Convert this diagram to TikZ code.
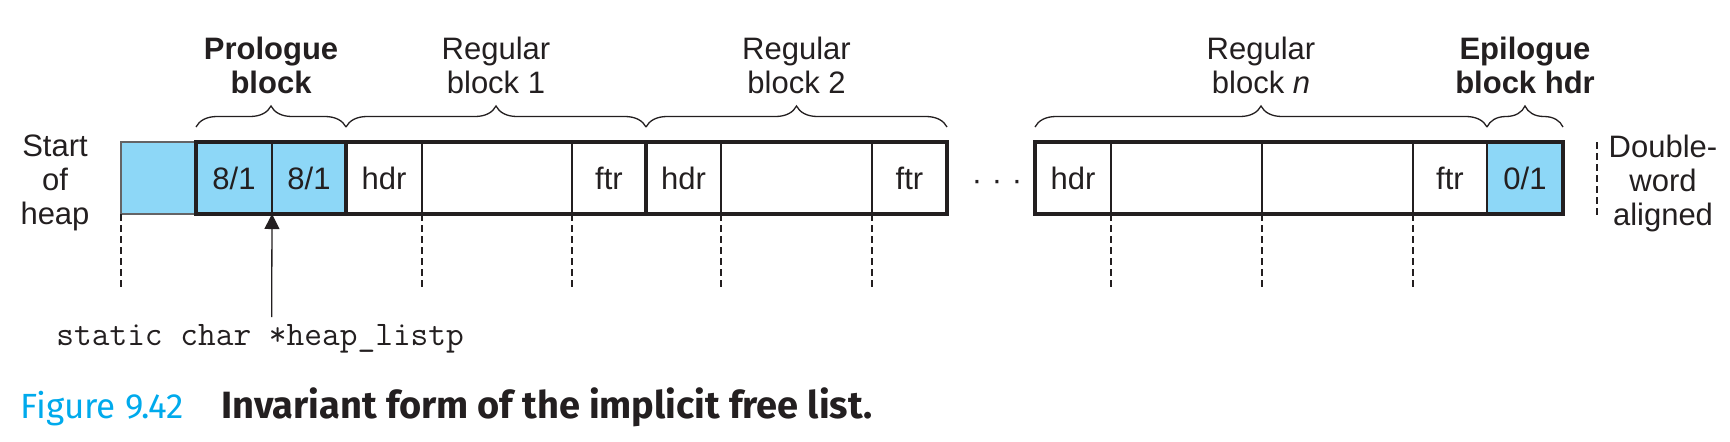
\documentclass[tikz,border=0pt]{standalone}
\usepackage{fontspec}
\setmainfont{Liberation Sans}
\newfontfamily\capfont{Fira Sans}
\usetikzlibrary{decorations.pathreplacing,calc,arrows.meta}
\definecolor{heapblue}{RGB}{141,215,247}
\definecolor{capblue}{RGB}{0,170,236}
\definecolor{ink}{RGB}{35,31,32}
\definecolor{edgegray}{RGB}{100,100,102}
\begin{document}
\begin{tikzpicture}[x=0.5pt,y=-0.5pt,
  lbl/.style={font=\fontsize{15.5}{17}\selectfont, text=ink},
  cell/.style={draw=ink, line width=0.65pt, minimum height=36pt, inner sep=0pt, outer sep=0pt, lbl},
  bluecell/.style={cell, fill=heapblue},
  outline/.style={draw=ink, line width=1.65pt},
  bracedec/.style={decorate, decoration={brace, amplitude=10.5pt}, line width=0.65pt, draw=ink},
  guide/.style={draw=ink, line width=0.65pt, dash pattern=on 3.5pt off 2pt},
  toplabel/.style={font=\fontsize{15.5}{17}\selectfont, text=ink, align=center, anchor=south, inner sep=0pt},
  toplabelb/.style={font=\fontsize{15.5}{17}\selectfont\bfseries, text=ink, align=center, anchor=south, inner sep=0pt},
  sidelabel/.style={font=\fontsize{15.5}{17}\selectfont, text=ink, align=center, inner sep=0pt},
]
\useasboundingbox (0,0) rectangle (1730,441);

% cells
\node[bluecell, draw=edgegray, minimum width=37.5pt] (start) at (158.5,178) {};
\node[bluecell, minimum width=38pt] (p1) at (234,178) {8/1};
\node[bluecell, minimum width=37pt] (p2) at (309,178) {8/1};
\node[cell, minimum width=38pt] (b1h) at (384,178) {hdr};
\node[cell, minimum width=75pt] (b1p) at (497,178) {};
\node[cell, minimum width=37pt] (b1f) at (609,178) {ftr};
\node[cell, minimum width=37.5pt] (b2h) at (683.5,178) {hdr};
\node[cell, minimum width=75.5pt] (b2p) at (796.5,178) {};
\node[cell, minimum width=37.5pt] (b2f) at (909.5,178) {ftr};
\node[lbl, inner sep=0pt] (dots) at (997,185) {\makebox[10pt]{·}\makebox[10pt]{·}\makebox[10pt]{·}};
\node[cell, minimum width=38pt] (bnh) at (1073,178) {hdr};
\node[cell, minimum width=75.5pt] (bnp1) at (1186.5,178) {};
\node[cell, minimum width=75.5pt] (bnp2) at (1337.5,178) {};
\node[cell, minimum width=37pt] (bnf) at (1450,178) {ftr};
\node[bluecell, line width=1pt, minimum width=38pt] (ep) at (1525,178) {0/1};

% thick block outlines
\draw[outline] (p1.north west) rectangle (p2.south east);
\draw[outline] (b1h.north west) rectangle (b1f.south east);
\draw[outline] (b2h.north west) rectangle (b2f.south east);
\draw[outline] (bnh.north west) rectangle (ep.south east);

% braces
\draw[bracedec] ($(p1.north west)+(0,-15)$) -- ($(p2.north east)+(0,-15)$);
\draw[bracedec] ($(b1h.north west)+(0,-15)$) -- ($(b1f.north east)+(0,-15)$);
\draw[bracedec] ($(b2h.north west)+(0,-15)$) -- ($(b2f.north east)+(0,-15)$);
\draw[bracedec] ($(bnh.north west)+(0,-15)$) -- ($(bnf.north east)+(0,-15)$);
\draw[bracedec] ($(ep.north west)+(0,-15)$) -- ($(ep.north east)+(0,-15)$);

% brace labels
\node[toplabelb] (lpro) at (271,94) {Prologue\\block};
\node[toplabel] (lb1) at (496,94) {Regular\\block 1};
\node[toplabel] (lb2) at (796.5,94) {Regular\\block 2};
\node[toplabel] (lbn) at (1261,94) {Regular\\block \textit{n}};
\node[toplabelb] (lep) at (1525,94) {Epilogue\\block hdr};

% side labels
\node[sidelabel] (soh) at (55,183) {Start\\of\\heap};
\node[sidelabel] (dwa) at (1663,183) {Double-\\word\\aligned};
\coordinate (dwtop) at (1597,142);
\coordinate (dwbot) at (1597,215);
\draw[guide] (dwtop) -- (dwbot);

% dashed guides below
\foreach \a in {start.south west, b1h.south east, b1f.south west, b2h.south east, b2f.south west, bnh.south east, bnp1.south east, bnf.south west}
  \draw[guide] (\a) -- ($(\a)+(0,74)$);

% pointer
\coordinate (ptrtail) at (271.7,317);
\draw[draw=ink, line width=0.65pt, -{Triangle[length=7.5pt,width=7.5pt]}] (ptrtail) -- (p1.south east);
\node[anchor=base west, inner sep=0pt, font=\ttfamily\fontsize{17.2}{19}\selectfont, text=ink] (code) at (56,345) {static char *heap\_listp};

% caption
\node[anchor=base west, inner sep=0pt, font=\capfont\fontsize{17.5}{21}\selectfont, text=capblue] (fig) at (20,418) {Figure 9.42};
\node[anchor=base west, inner sep=0pt, font=\capfont\bfseries\fontsize{19}{22}\selectfont, text=ink] (cap) at (221,418) {Invariant form of the implicit free list.};
\end{tikzpicture}
\end{document}
